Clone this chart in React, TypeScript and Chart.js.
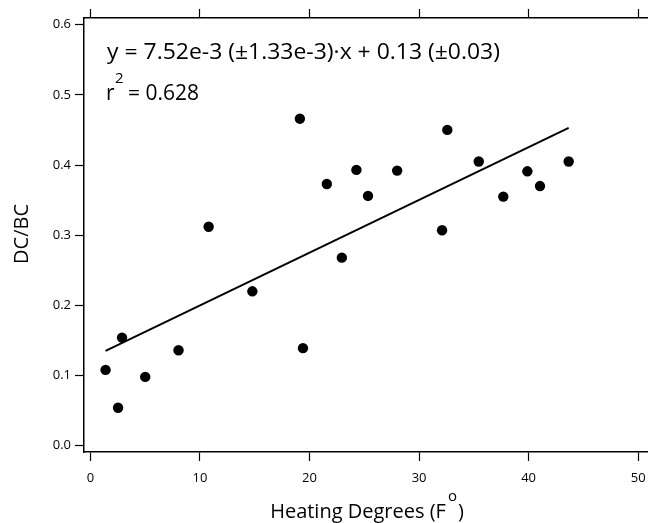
import React, { useEffect, useRef } from "react";
import { Chart, registerables } from "chart.js";

Chart.register(...registerables);

// ---- data ----
const heatingDegrees = [1.38, 2.52, 2.88, 5.0, 8.04, 10.79, 14.78, 19.12, 19.4, 21.58, 22.95, 24.28, 25.34, 28.0, 32.1, 32.58, 35.45, 37.69, 39.89, 41.04, 43.66];
const dcbcValues = [0.108, 0.054, 0.154, 0.098, 0.136, 0.312, 0.22, 0.466, 0.139, 0.373, 0.268, 0.393, 0.356, 0.392, 0.307, 0.45, 0.405, 0.355, 0.391, 0.37, 0.405];
const fitLineX = [1.38, 43.66];
const fitLineY = [0.135, 0.453];
const xTickValues = [0, 10, 20, 30, 40, 50];
const yTickValues = [0, 0.1, 0.2, 0.3, 0.4, 0.5, 0.6];
const equationText = "y = 7.52e-3 (\u00b11.33e-3)\u00b7x + 0.13 (\u00b10.03)";
const r2Value = "= 0.628";
const xTitleMain = "Heating Degrees (F";
const xTitleSup = "o";
const xTitleEnd = ")";
const yTitle = "DC/BC";

const FONT = "'Open Sans', sans-serif";

const textPlugin = {
  id: "annotTexts",
  afterDraw(chart: any) {
    const ctx = chart.ctx as CanvasRenderingContext2D;
    ctx.save();
    ctx.fillStyle = "#000";
    ctx.textAlign = "left";
    ctx.textBaseline = "alphabetic";
    // equation, stretched to the width it has in the reference
    ctx.font = `21px ${FONT}`;
    const eqW = ctx.measureText(equationText).width;
    const eqTarget = 393;
    ctx.save();
    ctx.translate(107, 59);
    ctx.scale(eqTarget / eqW, 1);
    ctx.fillText(equationText, 0, 0);
    ctx.restore();

    ctx.fillText("r", 106, 100);
    ctx.fillText(r2Value, 128, 100);
    ctx.font = `15px ${FONT}`;
    ctx.fillText("2", 115, 83);

    // x title with superscript degree "o"
    ctx.font = `20px ${FONT}`;
    const wMain = ctx.measureText(xTitleMain).width;
    ctx.font = `15px ${FONT}`;
    const wSup = ctx.measureText(xTitleSup).width;
    ctx.font = `20px ${FONT}`;
    const wEnd = ctx.measureText(xTitleEnd).width;
    const total = wMain + 2 + wSup + 1 + wEnd;
    let x = 367 - total / 2;
    ctx.fillText(xTitleMain, x, 518);
    x += wMain + 2;
    ctx.font = `15px ${FONT}`;
    ctx.fillText(xTitleSup, x, 501);
    x += wSup + 1;
    ctx.font = `20px ${FONT}`;
    ctx.fillText(xTitleEnd, x, 518);

    // y title
    ctx.translate(28, 234);
    ctx.rotate(-Math.PI / 2);
    ctx.textAlign = "center";
    ctx.font = `20px ${FONT}`;
    ctx.fillText(yTitle, 0, 0);
    ctx.restore();
  },
};

export default function App() {
  const canvasRef = useRef<HTMLCanvasElement | null>(null);

  useEffect(() => {
    const canvas = canvasRef.current;
    if (!canvas) return;
    const axisCommon = {
      grid: {
        display: true,
        drawOnChartArea: false,
        drawTicks: true,
        tickLength: 9,
        tickColor: "#000",
        tickWidth: 1.2,
      },
      border: { display: true, color: "#000", width: 1.5 },
    };
    const chart = new Chart(canvas, {
      type: "scatter",
      data: {
        datasets: [
          {
            type: "scatter",
            data: heatingDegrees.map((x, i) => ({ x, y: dcbcValues[i] })),
            backgroundColor: "#000",
            borderColor: "#000",
            borderWidth: 0,
            pointRadius: 5.2,
          },
          {
            type: "line",
            data: fitLineX.map((x, i) => ({ x, y: fitLineY[i] })),
            borderColor: "#000",
            borderWidth: 2,
            pointRadius: 0,
            fill: false,
          },
        ],
      },
      options: {
        animation: false,
        responsive: false,
        devicePixelRatio: 1,
        layout: { padding: 0 },
        plugins: { legend: { display: false }, tooltip: { enabled: false } },
        scales: {
          x: {
            type: "linear",
            position: "bottom",
            min: -0.59,
            max: 57.0,
            ...axisCommon,
            ticks: {
              color: "#000",
              font: { family: FONT, size: 13 },
              padding: 9,
              maxRotation: 0,
              callback: (v: any) => String(v),
            },
            afterBuildTicks: (s: any) => {
              s.ticks = xTickValues.map((value) => ({ value }));
            },
            afterFit: (s: any) => {
              s.height = 71;
            },
          },
          x2: {
            type: "linear",
            position: "top",
            min: -0.59,
            max: 57.0,
            ...axisCommon,
            ticks: { display: false },
            afterBuildTicks: (s: any) => {
              s.ticks = xTickValues.map((value) => ({ value }));
            },
            afterFit: (s: any) => {
              s.height = 18;
            },
          },
          y: {
            type: "linear",
            position: "left",
            min: -0.009,
            max: 0.6095,
            ...axisCommon,
            ticks: {
              color: "#000",
              font: { family: FONT, size: 13 },
              padding: 4,
              callback: (v: any) => Number(v).toFixed(1),
            },
            afterBuildTicks: (s: any) => {
              s.ticks = yTickValues.map((value) => ({ value }));
            },
            afterFit: (s: any) => {
              s.width = 84;
            },
          },
        },
      },
      plugins: [textPlugin],
    } as any);
    return () => chart.destroy();
  }, []);

  return (
    <div
      style={{
        position: "fixed",
        left: 0,
        top: 0,
        width: 648,
        height: 523,
        overflow: "hidden",
        background: "#fff",
      }}
    >
      <canvas ref={canvasRef} width={720} height={523} style={{ display: "block" }} />
    </div>
  );
}
